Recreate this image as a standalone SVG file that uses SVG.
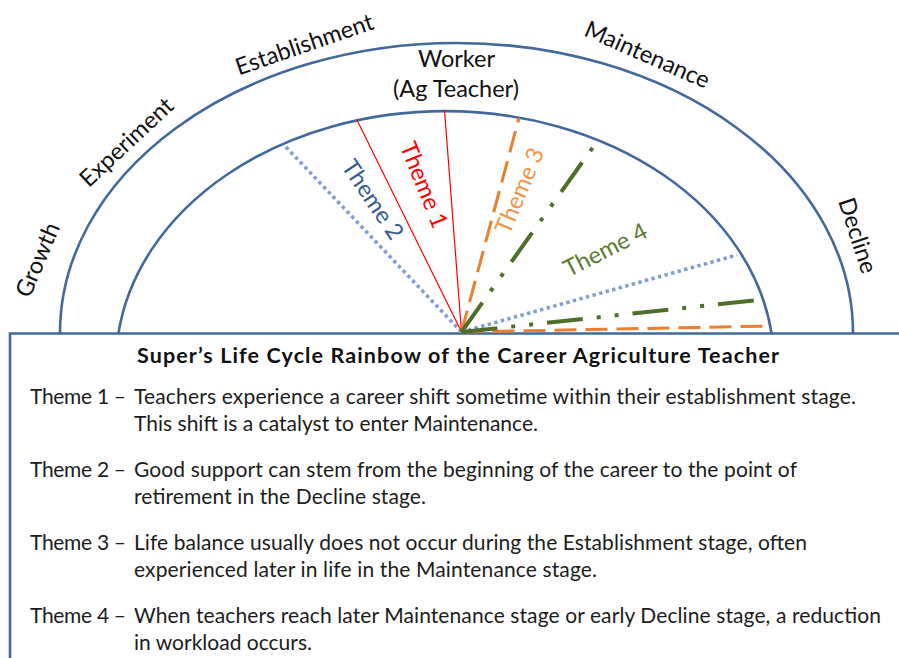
<svg xmlns="http://www.w3.org/2000/svg" width="899" height="658" viewBox="0 0 899 658">
  <defs>
    <style>
      text { font-family: Lato, "Open Sans", "Liberation Sans", sans-serif; }
      .arc { fill: none; stroke: #41699B; stroke-width: 2.6; }
      .stage { font-size: 23.5px; fill: #111; text-anchor: middle; }
      .body { font-size: 21px; fill: #1c1c1c; }
      .title { font-size: 21.5px; font-weight: bold; fill: #111; text-anchor: middle; }
      .lbl { font-size: 23.5px; text-anchor: middle; }
      .t1 { stroke: #FF0000; stroke-width: 1.2; fill: none; }
      .t2 { stroke: #7F9ED3; stroke-width: 3.6; stroke-dasharray: 3.4 3.4; fill: none; }
      .t3 { stroke: #ED7D31; stroke-width: 3; stroke-dasharray: 22 9; fill: none; }
      .t4 { stroke: #4E6E29; stroke-width: 4; stroke-dasharray: 36 14 4 14 4 14; fill: none; }
    </style>
  </defs>

  <rect width="899" height="658" fill="#fff"/>

  <!-- rainbow bands -->
  <g id="rainbow">
    <path class="arc" d="M 60 333 A 396.5 290 0 0 1 853 333"/>
    <path class="arc" d="M 118.5 333 A 329 253 0 0 1 771.5 333"/>
  </g>

  <!-- legend box (its top edge is the rainbow baseline) -->
  <g id="legend-box">
    <path d="M 10 660 L 10 333.5 L 902 333.5" fill="none" stroke="#41699B" stroke-width="2.6"/>
  </g>

  <!-- theme rays from the worker point -->
  <g id="connectors">
    <line class="t2" x1="461.5" y1="332" x2="285" y2="146"/>
    <line class="t2" x1="461.5" y1="332" x2="737" y2="255"/>
    <line class="t1" x1="461.5" y1="332" x2="356.5" y2="119"/>
    <line class="t1" x1="461.5" y1="332" x2="444.5" y2="110"/>
    <line class="t3" x1="461.5" y1="332" x2="519" y2="118"/>
    <line class="t3" x1="461.5" y1="332" x2="772" y2="326"/>
    <line class="t4" x1="461.5" y1="332" x2="596" y2="143"/>
    <line class="t4" x1="461.5" y1="332" x2="758" y2="300"/>
  </g>

  <!-- life stages -->
  <g id="stage-growth"><text class="stage" transform="translate(45,263) rotate(-67)">Growth</text></g>
  <g id="stage-experiment"><text class="stage" transform="translate(132,148) rotate(-43)">Experiment</text></g>
  <g id="stage-establishment"><text class="stage" transform="translate(307,52) rotate(-19)">Establishment</text></g>
  <g id="stage-worker">
    <text class="stage" x="456.5" y="67">Worker</text>
    <text class="stage" x="456" y="97">(Ag Teacher)</text>
  </g>
  <g id="stage-maintenance"><text class="stage" transform="translate(644,62) rotate(23.6)">Maintenance</text></g>
  <g id="stage-decline"><text class="stage" transform="translate(850,238) rotate(72)">Decline</text></g>

  <!-- theme labels -->
  <g id="label-theme1"><text class="lbl" fill="#FF0000" transform="translate(416.5,188) rotate(68)">Theme 1</text></g>
  <g id="label-theme2"><text class="lbl" fill="#335C8F" transform="translate(366,204) rotate(56)">Theme 2</text></g>
  <g id="label-theme3"><text class="lbl" fill="#F19549" transform="translate(527,194) rotate(-67)">Theme 3</text></g>
  <g id="label-theme4"><text class="lbl" fill="#5A7A32" transform="translate(609,257) rotate(-27)">Theme 4</text></g>

  <!-- legend text -->
  <g id="legend-text">
    <text class="title" x="458" y="363" textLength="642">Super’s Life Cycle Rainbow of the Career Agriculture Teacher</text>

    <text class="body" x="30" y="403.5" textLength="96">Theme 1 –</text>
    <text class="body" x="134" y="403.5" textLength="722">Teachers experience a career shift sometime within their establishment stage.</text>
    <text class="body" x="134" y="431" textLength="404">This shift is a catalyst to enter Maintenance.</text>

    <text class="body" x="30" y="477" textLength="96">Theme 2 –</text>
    <text class="body" x="134" y="477" textLength="663">Good support can stem from the beginning of the career to the point of</text>
    <text class="body" x="134" y="504" textLength="292">retirement in the Decline stage.</text>

    <text class="body" x="30" y="550" textLength="96">Theme 3 –</text>
    <text class="body" x="134" y="550" textLength="673">Life balance usually does not occur during the Establishment stage, often</text>
    <text class="body" x="134" y="577" textLength="463">experienced later in life in the Maintenance stage.</text>

    <text class="body" x="30" y="623" textLength="96">Theme 4 –</text>
    <text class="body" x="134" y="623" textLength="747">When teachers reach later Maintenance stage or early Decline stage, a reduction</text>
    <text class="body" x="134" y="650" textLength="178">in workload occurs.</text>
  </g>
</svg>
